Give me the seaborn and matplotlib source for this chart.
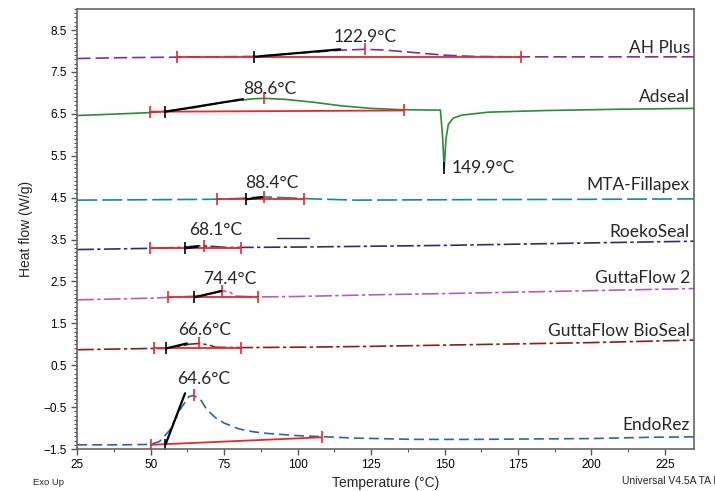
import matplotlib
matplotlib.use("Agg")
import matplotlib.pyplot as plt
import seaborn as sns
from matplotlib.ticker import MultipleLocator

# ---- data (temperature in C, heat flow in W/g) ----
names = ["AH Plus", "Adseal", "MTA-Fillapex", "RoekoSeal", "GuttaFlow 2",
         "GuttaFlow BioSeal", "EndoRez"]

ah_t = [25, 40, 55, 70, 85, 95, 105, 115, 122.9, 130, 140, 150, 160, 175, 200, 235]
ah_y = [7.82, 7.84, 7.85, 7.86, 7.87, 7.92, 7.97, 8.02, 8.04, 8.02, 7.96, 7.90, 7.87, 7.86, 7.86, 7.86]

ad_t = [25, 40, 50, 55, 65, 75, 85, 88.6, 95, 105, 115, 125, 135, 145, 148.6, 149.3,
        149.9, 150.5, 151.3, 153, 156, 165, 185, 210, 235]
ad_y = [6.46, 6.50, 6.53, 6.56, 6.65, 6.78, 6.86, 6.87, 6.85, 6.78, 6.69, 6.63, 6.60, 6.59,
        6.59, 6.00, 5.20, 5.90, 6.25, 6.40, 6.47, 6.54, 6.58, 6.61, 6.63]

mta_t = [25, 50, 70, 80, 88, 95, 105, 120, 150, 200, 235]
mta_y = [4.44, 4.45, 4.46, 4.48, 4.52, 4.50, 4.47, 4.44, 4.45, 4.46, 4.47]

rs_t = [25, 50, 60, 66, 70, 76, 100, 150, 200, 235]
rs_y = [3.26, 3.29, 3.31, 3.35, 3.34, 3.31, 3.32, 3.36, 3.42, 3.46]

gf_t = [25, 50, 60, 65, 70, 74.4, 77, 79, 86, 100, 125, 150, 200, 235]
gf_y = [2.06, 2.10, 2.13, 2.15, 2.20, 2.28, 2.24, 2.15, 2.13, 2.14, 2.18, 2.21, 2.28, 2.33]

bs_t = [25, 50, 55, 60, 63, 66.6, 70, 72, 80, 100, 125, 150, 200, 235]
bs_y = [0.87, 0.90, 0.90, 0.95, 1.00, 1.02, 0.98, 0.93, 0.92, 0.93, 0.95, 0.98, 1.04, 1.10]

er_t = [25, 40, 50, 53, 56.5, 60, 63, 64.6, 67, 69, 72, 75, 80, 85, 90, 100, 110, 120,
        140, 160, 180, 200, 220, 235]
er_y = [-1.40, -1.40, -1.39, -1.32, -1.05, -0.56, -0.25, -0.22, -0.32, -0.55, -0.75, -0.88,
        -1.02, -1.09, -1.13, -1.18, -1.21, -1.24, -1.27, -1.27, -1.26, -1.25, -1.22, -1.21]

curves_t = [ah_t, ad_t, mta_t, rs_t, gf_t, bs_t, er_t]
curves_y = [ah_y, ad_y, mta_y, rs_y, gf_y, bs_y, er_y]

colors = ["#7d2f9c", "#2f8a3b", "#1b8a88", "#2c2f6e", "#b062b6", "#8a1d1f", "#2d62b4"]
styles = [(0, (8, 3)), "-", (0, (12, 3)), (0, (10, 2, 2, 2)), (0, (10, 2, 2, 2)),
          (0, (10, 2, 2, 2)), (0, (6, 3))]

# peak temperatures (labels) and their label positions
peak_text = ["122.9°C", "88.6°C", "88.4°C", "68.1°C", "74.4°C", "66.6°C", "64.6°C"]
peak_t = [122.9, 88.6, 88.4, 68.1, 74.4, 66.6, 64.6]
peak_y = [8.04, 6.87, 4.52, 3.35, 2.28, 1.02, -0.22]
label_t = [123, 90.6, 91.3, 72, 77, 68.2, 67.9]
label_y = [8.34, 7.10, 4.85, 3.72, 2.55, 1.33, 0.17]
name_y = [8.08, 6.90, 4.79, 3.68, 2.57, 1.32, -0.92]

# red integration baselines (start, end)
base_t0 = [59, 49.8, 72.6, 49.8, 56, 51.2, 50]
base_t1 = [175.9, 136.2, 102.2, 80.8, 86.6, 80.8, 108.3]
base_y0 = [7.86, 6.55, 4.46, 3.29, 2.12, 0.91, -1.40]
base_y1 = [7.86, 6.58, 4.46, 3.29, 2.12, 0.91, -1.22]

# black onset tangents (start, end)
tan_t0 = [85.2, 54.9, 82.5, 61.7, 64.8, 55.2, 55]
tan_y0 = [7.86, 6.55, 4.46, 3.29, 2.12, 0.90, -1.40]
tan_t1 = [114.5, 81.4, 88, 66, 74, 62.3, 61.7]
tan_y1 = [8.04, 6.85, 4.51, 3.33, 2.27, 1.02, -0.17]

sns.set_style("ticks")
plt.rcParams["font.family"] = ["Liberation Sans", "DejaVu Sans"]

fig = plt.figure(figsize=(7.15, 4.91), dpi=100)
ax = fig.add_axes([0.108, 0.0855, 0.863, 0.896])

for i in range(len(names)):
    sns.lineplot(x=curves_t[i], y=curves_y[i], ax=ax, color=colors[i], linestyle=styles[i],
                 linewidth=1.2, estimator=None, sort=False, legend=False)
    ax.plot([base_t0[i], base_t1[i]], [base_y0[i], base_y1[i]], color="#e8282c", lw=1.3,
            marker="|", markersize=9, markeredgewidth=1.2)
    ax.plot([peak_t[i]], [peak_y[i]], color="#e8282c", marker="|", markersize=9,
            markeredgewidth=1.2)
    ax.plot([tan_t0[i], tan_t1[i]], [tan_y0[i], tan_y1[i]], color="black", lw=1.6)
    ax.plot([tan_t0[i]], [tan_y0[i]], color="black", marker="|", markersize=8,
            markeredgewidth=1.2)
    ax.text(label_t[i], label_y[i], peak_text[i], fontsize=12.5, family="Lato",
            ha="center", va="center")
    ax.text(233.5, name_y[i], names[i], fontsize=12.5, family="Lato", ha="right",
            va="center")

# Adseal endotherm minimum
ax.plot([149.9], [5.2], color="black", marker="|", markersize=8, markeredgewidth=1.2)
ax.text(152.5, 5.2, "149.9°C", fontsize=12.5, family="Lato", ha="left", va="center")
# stray RoekoSeal fragment
ax.plot([93, 104], [3.53, 3.53], color="#2c2f6e", lw=1)

ax.set_xlim(25, 235)
ax.set_ylim(-1.5, 9.0)
ax.set_xticks([25, 50, 75, 100, 125, 150, 175, 200, 225])
ax.set_yticks([8.5, 7.5, 6.5, 5.5, 4.5, 3.5, 2.5, 1.5, 0.5, -0.5, -1.5])
ax.xaxis.set_minor_locator(MultipleLocator(12.5))
ax.yaxis.set_minor_locator(MultipleLocator(0.1))
ax.tick_params(which="major", direction="out", length=4, width=1, colors="#555555",
               labelcolor="black", labelsize=8.5)
ax.tick_params(which="minor", direction="out", length=2.5, width=0.8, colors="#555555")
for s in ax.spines.values():
    s.set_visible(True)
    s.set_color("#666666")
    s.set_linewidth(1.2)

ax.set_xlabel("Temperature (°C)", fontsize=10, labelpad=3)
ax.set_ylabel("Heat flow (W/g)", fontsize=10)
ax.yaxis.set_label_coords(-0.072, 0.5)
fig.text(0.046, 0.013, "Exo Up", fontsize=6.8)
fig.text(0.870, 0.015, "Universal V4.5A TA Instruments", fontsize=7.5)

fig.savefig("out.png", dpi=100)
